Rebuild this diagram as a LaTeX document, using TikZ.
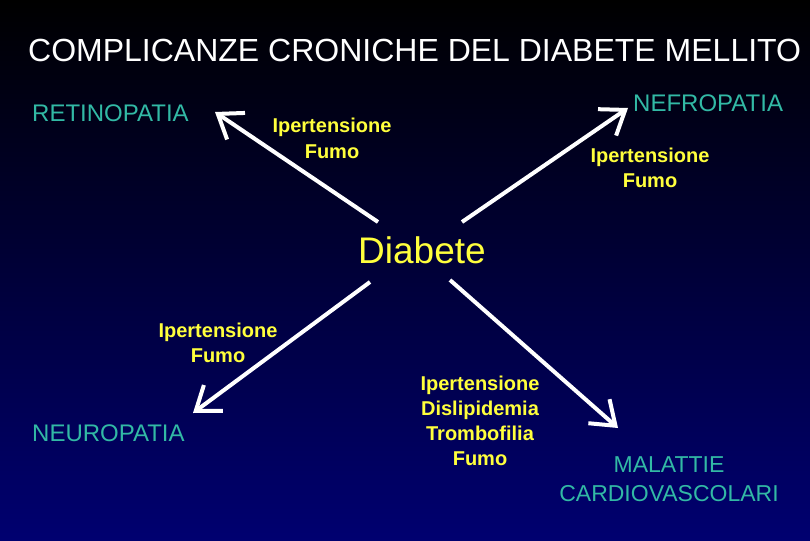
\documentclass[tikz,border=0pt]{standalone}
\usepackage{fontspec}
\setmainfont{Liberation Sans}
\usetikzlibrary{arrows.meta}

\definecolor{bgblue}{RGB}{0,0,112}
\definecolor{compl}{RGB}{50,185,165}
\definecolor{risk}{RGB}{255,255,60}

\tikzset{
    compl/.style={text=compl, inner sep=0pt, anchor=base, font=\fontsize{24}{29}\selectfont},
    risk/.style={text=risk, inner sep=0pt, anchor=base, align=center, font=\fontsize{20}{25}\selectfont\bfseries},
    link/.style={draw=white, line width=4pt, -{Straight Barb[length=22pt, width=32pt]}}
}

\begin{document}
\begin{tikzpicture}[x=1pt, y=-1pt]
    % Background
    \shade[top color=black, bottom color=bgblue] (0,0) rectangle (810,540);
    \useasboundingbox (0,0) rectangle (810,540);

    % Title
    \node[text=white, inner sep=0pt, anchor=base west, font=\fontsize{32}{36}\selectfont] (title) at (28,62) {COMPLICANZE CRONICHE DEL DIABETE MELLITO};

    % Centre
    \node[text=risk, inner sep=0pt, anchor=base, font=\fontsize{37}{40}\selectfont] (diab) at (422,263) {Diabete};

    % Complications (base = last line)
    \node[compl, anchor=base west] (retino) at (32,122) {RETINOPATIA};
    \node[compl, anchor=base west] (nefro) at (633,112) {NEFROPATIA};
    \node[compl, anchor=base west] (neuro) at (32,441) {NEUROPATIA};
    \node[compl, align=center, font=\fontsize{23}{29}\selectfont] (cardio) at (669,501) {MALATTIE\\CARDIOVASCOLARI};

    % Risk factors
    \node[risk] (rRet) at (332,158) {Ipertensione\\Fumo};
    \node[risk] (rNef) at (650,187) {Ipertensione\\Fumo};
    \node[risk] (rNeu) at (218,362) {Ipertensione\\Fumo};
    \node[risk] (rCar) at (480,465) {Ipertensione\\Dislipidemia\\Trombofilia\\Fumo};

    % Arrow ends
    \coordinate (dRet) at (378,222);
    \coordinate (dNef) at (462,222);
    \coordinate (dNeu) at (370,282);
    \coordinate (dCar) at (450,280);
    \coordinate (tRet) at (215,112);
    \coordinate (tNef) at (628,108);
    \coordinate (tNeu) at (193,413);
    \coordinate (tCar) at (618,428);

    % Arrows
    \draw[link] (dRet) -- (tRet);
    \draw[link] (dNef) -- (tNef);
    \draw[link] (dNeu) -- (tNeu);
    \draw[link] (dCar) -- (tCar);
\end{tikzpicture}
\end{document}
